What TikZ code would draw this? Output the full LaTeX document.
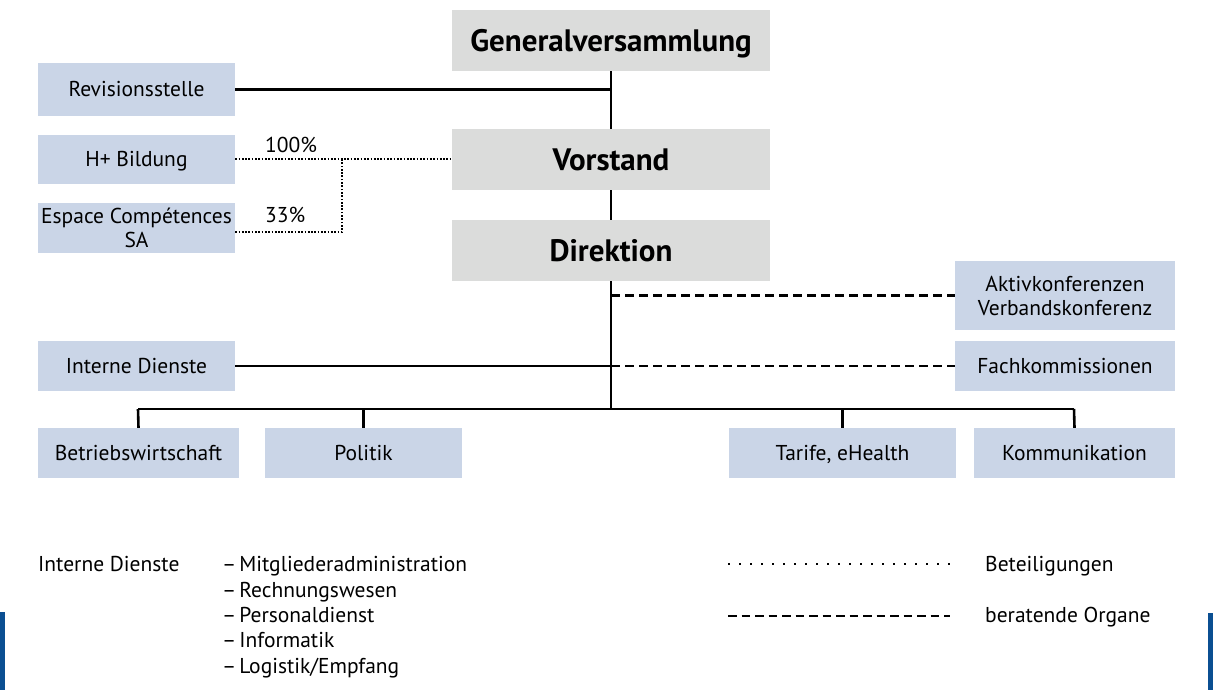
\documentclass[tikz,border=0pt]{standalone}
\usepackage{fontspec}
\setmainfont{PT Sans}
\definecolor{boxblue}{RGB}{202,213,231}
\definecolor{boxgray}{RGB}{219,220,219}
\definecolor{barblue}{RGB}{11,79,146}
\tikzset{
  base/.style={inner sep=0pt, align=center, font=\fontsize{21.5}{24}\selectfont},
  bluebox/.style={base, fill=boxblue, minimum height=50pt},
  oneline/.style={text height=15pt, text depth=0pt},
  graybox/.style={base, fill=boxgray, minimum width=318pt, minimum height=61pt, text height=22pt, text depth=0pt, font=\fontsize{31}{34}\selectfont\bfseries},
  solidline/.style={line width=2.6pt},
  dotline/.style={line width=2pt, dash pattern=on 1.7pt off 1.6pt},
  dashline/.style={line width=2.6pt, dash pattern=on 9pt off 5pt},
  legdot/.style={line width=2pt, dash pattern=on 1.8pt off 9.2pt},
  txt/.style={inner sep=0pt, anchor=base west, font=\fontsize{21.5}{24}\selectfont},
}
\begin{document}
\begin{tikzpicture}[x=1pt,y=-1pt]
\useasboundingbox (0,0) rectangle (1213,690);
% main column
\node[graybox] (gv) at (611,40.5) {Generalversammlung};
\node[graybox] (vs) at (611,159.5) {Vorstand};
\node[graybox] (dir) at (611,250.5) {Direktion};
% left boxes
\node[bluebox, oneline, minimum width=197pt, minimum height=53pt] (rev) at (136.5,89.5) {Revisionsstelle};
\node[bluebox, oneline, minimum width=197pt, minimum height=49pt] (hb) at (136.5,159.5) {H+ Bildung};
\node[bluebox, minimum width=197pt, minimum height=50pt] (ec) at (136.5,228) {Espace Compétences\\SA};
\node[bluebox, oneline, minimum width=197pt] (id) at (136.5,366) {Interne Dienste};
% right boxes
\node[bluebox, minimum width=220pt, minimum height=69pt] (ak) at (1065,295.5) {Aktivkonferenzen\\Verbandskonferenz};
\node[bluebox, oneline, minimum width=220pt] (fk) at (1065,366) {Fachkommissionen};
% bottom boxes
\node[bluebox, oneline, minimum width=201pt] (bw) at (138.5,453) {Betriebswirtschaft};
\node[bluebox, oneline, minimum width=197pt] (po) at (363.5,453) {Politik};
\node[bluebox, oneline, minimum width=227pt] (ta) at (842.5,453) {Tarife, eHealth};
\node[bluebox, oneline, minimum width=201pt] (ko) at (1074.5,453) {Kommunikation};
% coordinates
\coordinate (bus) at (611,409);
\coordinate (busL) at (138,409);
\coordinate (busR) at (1074,409);
\coordinate (split) at (342,160);
\coordinate (ecend) at ([yshift=-4pt]ec.east);
% solid connectors
\draw[solidline] (gv.south) -- (vs.north);
\draw[solidline] (vs.south) -- (dir.north);
\draw[solidline] (dir.south) -- (bus);
\draw[solidline] (rev.east) -- (rev.east -| gv.south);
\draw[solidline] (id.east) -- (id.east -| bus);
\draw[solidline] (busL) -- (busR);
\draw[solidline] (busL) -- (bw.north);
\draw[solidline] (bus -| po.north) -- (po.north);
\draw[solidline] (bus -| ta.north) -- (ta.north);
\draw[solidline] (busR) -- (ko.north);
% dotted
\draw[dotline] (hb.east) -- (vs.west);
\draw[dotline] (ecend) -| (split);
\node[txt] (p100) at (265,152.5) {100\%};
\node[txt] (p33) at (265,222.5) {33\%};
% dashed
\draw[dashline] (ak.west -| bus) -- (ak.west);
\draw[dashline] (fk.west -| bus) -- (fk.west);
% legend
\node[txt] (lid) at (38,571.5) {Interne Dienste};
\node[txt] (l1) at (222,571.5) {–\hspace{3pt}Mitgliederadministration};
\node[txt] (l2) at (222,597.5) {–\hspace{3pt}Rechnungswesen};
\node[txt] (l3) at (222,622.5) {–\hspace{3pt}Personaldienst};
\node[txt] (l4) at (222,647.5) {–\hspace{3pt}Informatik};
\node[txt] (l5) at (222,673) {–\hspace{3pt}Logistik/Empfang};
\coordinate (d1) at (728,564);
\coordinate (d2) at (955,564);
\coordinate (e1) at (728,616);
\coordinate (e2) at (950,616);
\draw[legdot] (d1) -- (d2);
\draw[dashline, dash pattern=on 8.5pt off 5pt] (e1) -- (e2);
\node[txt] (lb) at (985,571.5) {Beteiligungen};
\node[txt] (lo) at (985,622.5) {beratende Organe};
% blue bars
\fill[barblue] (0,612) rectangle (5,690);
\fill[barblue] (1208,613) rectangle (1213,690);
\end{tikzpicture}
\end{document}
